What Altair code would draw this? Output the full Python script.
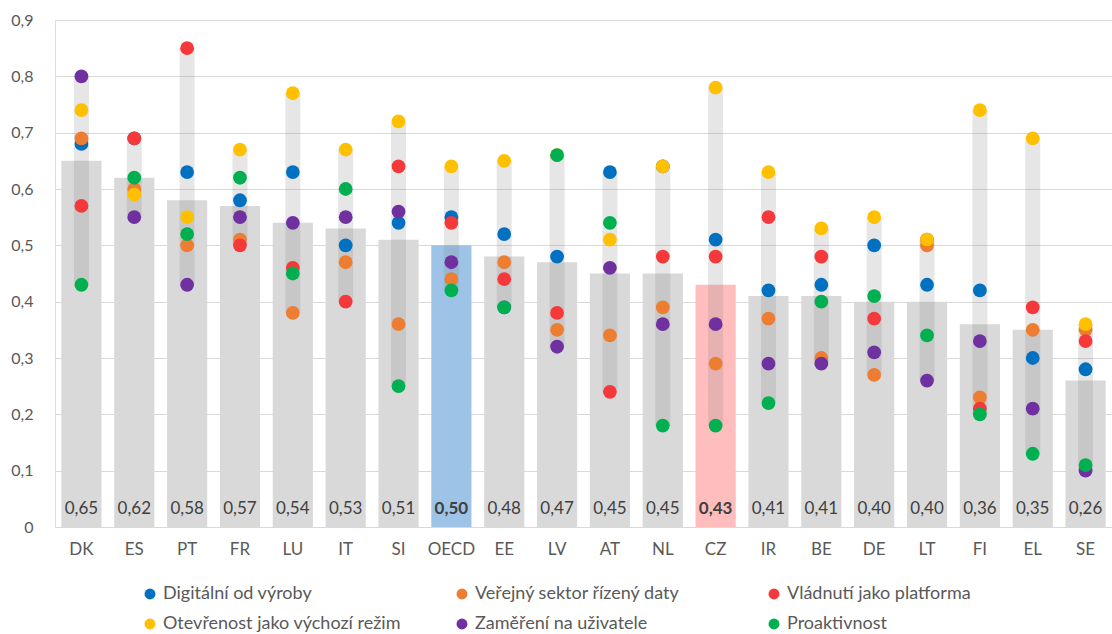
import altair as alt
import pandas as pd

countries = ["DK","ES","PT","FR","LU","IT","SI","OECD","EE","LV","AT","NL","CZ","IR","BE","DE","LT","FI","EL","SE"]
index_vals = [0.65,0.62,0.58,0.57,0.54,0.53,0.51,0.50,0.48,0.47,0.45,0.45,0.43,0.41,0.41,0.40,0.40,0.36,0.35,0.26]

series_names = [
    "Digitální od výroby",
    "Veřejný sektor řízený daty",
    "Vládnutí jako platforma",
    "Otevřenost jako výchozí režim",
    "Zaměření na uživatele",
    "Proaktivnost",
]
series_colors = ["#0070C0", "#ED7D31", "#F5393B", "#FFC000", "#7030A0", "#00B050"]

digital   = [0.68,0.69,0.63,0.58,0.63,0.50,0.54,0.55,0.52,0.48,0.63,0.64,0.51,0.42,0.43,0.50,0.43,0.42,0.30,0.28]
datadrv   = [0.69,0.60,0.50,0.51,0.38,0.47,0.36,0.44,0.47,0.35,0.34,0.39,0.29,0.37,0.30,0.27,0.50,0.23,0.35,0.35]
platform  = [0.57,0.69,0.85,0.50,0.46,0.40,0.64,0.54,0.44,0.38,0.24,0.48,0.48,0.55,0.48,0.37,0.51,0.21,0.39,0.33]
openness  = [0.74,0.59,0.55,0.67,0.77,0.67,0.72,0.64,0.65,0.66,0.51,0.64,0.78,0.63,0.53,0.55,0.51,0.74,0.69,0.36]
userdrv   = [0.80,0.55,0.43,0.55,0.54,0.55,0.56,0.47,0.39,0.32,0.46,0.36,0.36,0.29,0.29,0.31,0.26,0.33,0.21,0.10]
proactive = [0.43,0.62,0.52,0.62,0.45,0.60,0.25,0.42,0.39,0.66,0.54,0.18,0.18,0.22,0.40,0.41,0.34,0.20,0.13,0.11]

all_series = [digital, datadrv, platform, openness, userdrv, proactive]

bar_colors = {"OECD": "#9DC3E6", "CZ": "#FFBDBD"}

bars = pd.DataFrame({
    "country": countries,
    "value": index_vals,
    "label": [f"{v:.2f}".replace(".", ",") for v in index_vals],
    "barcolor": [bar_colors.get(c, "#D9D9D9") for c in countries],
    "bold": [c in bar_colors for c in countries],
    "lo": [min(s[i] for s in all_series) for i in range(len(countries))],
    "hi": [max(s[i] for s in all_series) for i in range(len(countries))],
})

rows = []
for k, (name, vals) in enumerate(zip(series_names, all_series)):
    for c, v in zip(countries, vals):
        rows.append({"country": c, "series": name, "value": v, "k": k})
dots = pd.DataFrame(rows)

FONT = "Lato"
xenc = alt.X("country:N", sort=countries, title=None,
             scale=alt.Scale(paddingInner=0.24, paddingOuter=0.12),
             axis=alt.Axis(labelAngle=0, labelFontSize=17, labelColor="#595959",
                           labelPadding=14, ticks=False, domainColor="#D9D9D9",
                           labelFont=FONT))

yscale = alt.Scale(domain=[0, 0.9], nice=False)

base_bar = alt.Chart(bars).mark_bar().encode(
    x=xenc,
    y=alt.Y("value:Q", scale=yscale, title=None,
            axis=alt.Axis(values=[0,0.1,0.2,0.3,0.4,0.5,0.6,0.7,0.8,0.9],
                          labelExpr="datum.value == 0 ? '0' : replace(format(datum.value, '.1f'), '.', ',')",
                          labelFontSize=16, labelColor="#595959", labelPadding=22,
                          ticks=False, domain=False, gridColor="#D9D9D9",
                          labelFont=FONT)),
    fill=alt.Fill("barcolor:N", scale=None, legend=None),
)

range_bar = alt.Chart(bars).mark_bar(size=15, color="#808080", opacity=0.2).encode(
    x=alt.X("country:N", sort=countries),
    y=alt.Y("lo:Q", scale=yscale),
    y2="hi:Q",
)

txt_normal = alt.Chart(bars).transform_filter("!datum.bold").mark_text(
    fontSize=17, color="#404040", font=FONT, dy=-18, baseline="middle"
).encode(x=alt.X("country:N", sort=countries), y=alt.datum(0), text="label:N")

txt_bold = alt.Chart(bars).transform_filter("datum.bold").mark_text(
    fontSize=17, color="#404040", font=FONT, fontWeight="bold", dy=-18, baseline="middle"
).encode(x=alt.X("country:N", sort=countries), y=alt.datum(0), text="label:N")

points = alt.Chart(dots).mark_circle(size=190, opacity=1).encode(
    x=alt.X("country:N", sort=countries),
    y=alt.Y("value:Q", scale=yscale),
    color=alt.Color("series:N", sort=series_names,
                    scale=alt.Scale(domain=series_names, range=series_colors),
                    legend=alt.Legend(title=None, orient="none", columns=3,
                                      direction="horizontal", gridAlign="all",
                                      legendX=86, legendY=565,
                                      symbolType="circle", symbolSize=120,
                                      labelFontSize=18, labelColor="#595959",
                                      labelFont=FONT, columnPadding=52,
                                      rowPadding=12, labelOffset=4,
                                      labelLimit=400)),
    order=alt.Order("k:Q"),
)

chart = alt.layer(base_bar, range_bar, txt_normal, txt_bold, points).resolve_scale(
    color="independent", fill="independent"
).properties(
    width=1057, height=507,
    padding={"left": 55, "top": 20, "right": 0, "bottom": 107},
    autosize=alt.AutoSizeParams(type="none"),
).configure_view(stroke=None).configure(font=FONT, background="white")

chart.save("out.html", embed_options={"renderer": "svg", "actions": False})
